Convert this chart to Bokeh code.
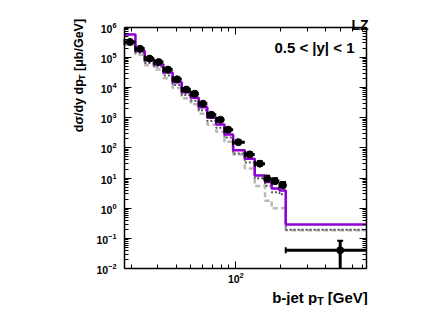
import math
from math import pi
from bokeh.plotting import figure
from bokeh.models import LogAxis, FixedTicker, LogTickFormatter, CustomJSTickFormatter
from bokeh.core.properties import value
from bokeh.embed import file_html
from bokeh.resources import INLINE

# ---- data ----
bin_edges = [18, 21.3, 24.6, 28.5, 32.8, 37.8, 43.5, 50, 56.5, 64.5, 74, 84, 96,
             115, 134, 157, 174, 196, 216, 750]
bin_centers = [19.6, 22.9, 26.5, 30.5, 35.2, 40.5, 46.7, 53.2, 60.4, 68.7, 79, 89,
               104, 124, 145, 162, 183, 207, 500]
data_vals = [3.2e5, 1.9e5, 9.0e4, 6.9e4, 3.9e4, 1.86e4, 8.5e3, 6.2e3, 2.9e3, 1.25e3,
             8.6e2, 4.0e2, 1.55e2, 61, 30, 9.6, 7.9, 5.8, 0.041]
data_hi = [3.6e5, 2.15e5, 1.02e5, 7.8e4, 4.4e4, 2.1e4, 9.6e3, 7.0e3, 3.3e3, 1.42e3,
           9.8e2, 4.6e2, 1.8e2, 71, 36, 12.0, 10.0, 7.4, 0.085]
data_lo = [2.85e5, 1.68e5, 8.0e4, 6.1e4, 3.45e4, 1.65e4, 7.5e3, 5.5e3, 2.55e3, 1.1e3,
           7.5e2, 3.5e2, 1.33e2, 52, 25, 7.6, 6.1, 4.4, 0.01]
mc_purple = [5.7e5, 1.6e5, 8.0e4, 5.8e4, 3.1e4, 1.5e4, 7.0e3, 4.6e3, 2.2e3, 1.0e3,
             6.0e2, 2.8e2, 83, 44, 12.3, 7.4, 4.5, 3.9, 0.29]
mc_dotted = [3.0e5, 1.4e5, 6.5e4, 4.8e4, 2.5e4, 1.2e4, 5.6e3, 3.6e3, 1.75e3, 7.8e2,
             4.6e2, 2.2e2, 65, 33, 10, 5.6, 3.4, 2.9, 0.195]
mc_dashed = [2.6e5, 1.2e5, 5.4e4, 3.9e4, 2.0e4, 9.5e3, 4.4e3, 2.8e3, 1.35e3, 5.8e2,
             3.4e2, 1.6e2, 60, 21, 5.5, 1.8, 1.0, 1.0, 0.19]

x_lim = (18, 750)
y_lim = (1e-2, 1e6)
y_major = [1e-2, 1e-1, 1, 10, 100, 1e3, 1e4, 1e5, 1e6]
y_minor = [k * 10.0 ** e for e in range(-2, 6) for k in range(2, 10)]
x_major = [100]
x_minor = [20, 30, 40, 50, 60, 70, 80, 90, 200, 300, 400, 500, 600, 700]

FONT = "Liberation Sans"
PURPLE = "#8f00d2"

# ---- layout: frame fills the canvas; the plot box is drawn by fixed axes ----
W, H = 434, 305
BOX_L, BOX_R, BOX_T, BOX_B = 124.0, 366.0, 26.5, 268.3
lx0, lx1 = math.log10(x_lim[0]), math.log10(x_lim[1])
ly0, ly1 = math.log10(y_lim[0]), math.log10(y_lim[1])
dpx = (lx1 - lx0) / (BOX_R - BOX_L)
dpy = (ly1 - ly0) / (BOX_B - BOX_T)
x_rng = (10 ** (lx0 - BOX_L * dpx), 10 ** (lx1 + (W - BOX_R) * dpx))
y_rng = (10 ** (ly0 - (H - BOX_B) * dpy), 10 ** (ly1 + BOX_T * dpy))

p = figure(width=W, height=H, x_axis_type="log", y_axis_type="log",
           x_range=x_rng, y_range=y_rng,
           x_axis_location=None, y_axis_location=None,
           output_backend="svg", toolbar_location=None, min_border=0)
p.title.visible = False
p.xgrid.visible = False
p.ygrid.visible = False
p.outline_line_color = None
p.background_fill_color = "white"
p.border_fill_color = "white"


def make_axis(ticker, loc, bounds, labels):
    ax = LogAxis(ticker=ticker, fixed_location=loc, bounds=bounds)
    ax.axis_line_color = "black"
    ax.axis_line_width = 1.5
    ax.major_tick_in = 7
    ax.major_tick_out = 0
    ax.minor_tick_in = 4
    ax.minor_tick_out = 0
    ax.major_tick_line_color = "black"
    ax.minor_tick_line_color = "black"
    ax.major_tick_line_width = 1
    ax.minor_tick_line_width = 1
    ax.major_label_text_font = FONT
    ax.major_label_text_font_style = "bold"
    ax.major_label_text_color = "black"
    ax.major_label_text_font_size = "10.5px"
    if labels:
        ax.formatter = LogTickFormatter()
    else:
        ax.formatter = CustomJSTickFormatter(code="return ''")
        ax.major_label_standoff = 0
    return ax


bottom_ax = make_axis(FixedTicker(ticks=x_major, minor_ticks=x_minor), y_lim[0], x_lim, True)
bottom_ax.major_label_standoff = 3
p.add_layout(bottom_ax, "below")
top_ax = make_axis(FixedTicker(ticks=x_major, minor_ticks=x_minor), y_lim[1], x_lim, False)
p.add_layout(top_ax, "above")
left_ax = make_axis(FixedTicker(ticks=y_major, minor_ticks=y_minor), x_lim[0], y_lim, True)
left_ax.major_label_standoff = 8
p.add_layout(left_ax, "left")
right_ax = make_axis(FixedTicker(ticks=y_major, minor_ticks=y_minor), x_lim[1], y_lim, False)
p.add_layout(right_ax, "right")

# ---- MC histograms ----
p.step(x=bin_edges, y=mc_dashed + [mc_dashed[-1]], mode="after",
       line_color="#b8b8b8", line_width=2.5, line_dash="5 3")
p.step(x=bin_edges, y=mc_dotted + [mc_dotted[-1]], mode="after",
       line_color="#5a5a5a", line_width=2, line_dash="2 2")
p.step(x=bin_edges, y=mc_purple + [mc_purple[-1]], mode="after",
       line_color=PURPLE, line_width=2.5)

# ---- data points with error bars and end caps ----
p.segment(x0=bin_edges[:-1], x1=bin_edges[1:], y0=data_vals, y1=data_vals,
          line_color="black", line_width=3)
p.segment(x0=bin_centers, x1=bin_centers, y0=data_lo, y1=data_hi,
          line_color="black", line_width=3)
p.scatter(x=bin_centers, y=data_hi, marker="dash", size=6, line_color="black", line_width=2)
p.scatter(x=bin_edges[:-1], y=data_vals, marker="dash", angle=pi / 2, size=6,
          line_color="black", line_width=2)
p.scatter(x=bin_centers, y=data_vals, size=7, marker="circle",
          fill_color="black", line_color="black")


# ---- texts (text glyphs; y offset positive = downward) ----
def lab(text, x, y, dx, dy, size, align="left", angle=0.0):
    p.text(x=[x], y=[y], text=[text], x_offset=dx, y_offset=-dy, angle=angle,
           text_font=value(FONT), text_font_style="bold",
           text_font_size=value(size), text_align=align,
           text_baseline="alphabetic", text_color="black")


# x-axis title: "b-jet p_T [GeV]"
lab("b-jet p", x_lim[1], y_lim[0], -94.3, -28.7, "15px")
lab("T", x_lim[1], y_lim[0], -49.3, -31.7, "10.5px")
lab("[GeV]", x_lim[1], y_lim[0], -38.7, -28.7, "15px")

# y-axis title: "dσ/dy dp_T [μb/GeV]" (rotated)
lab("dσ/dy dp", x_lim[0], y_lim[0], -45.7, 136.6, "12.5px", angle=pi / 2)
lab("T", x_lim[0], y_lim[0], -42.7, 188.8, "9px", angle=pi / 2)
lab("[μb/GeV]", x_lim[0], y_lim[0], -45.7, 197.8, "12.5px", angle=pi / 2)

lab("LZ", x_lim[1], y_lim[1], 2, 2.5, "14px", align="right")
lab("0.5 < |y| < 1", x_lim[1], y_lim[1], -12, -20.8, "15px", align="right")

open("out.html", "w").write(file_html(p, INLINE))
